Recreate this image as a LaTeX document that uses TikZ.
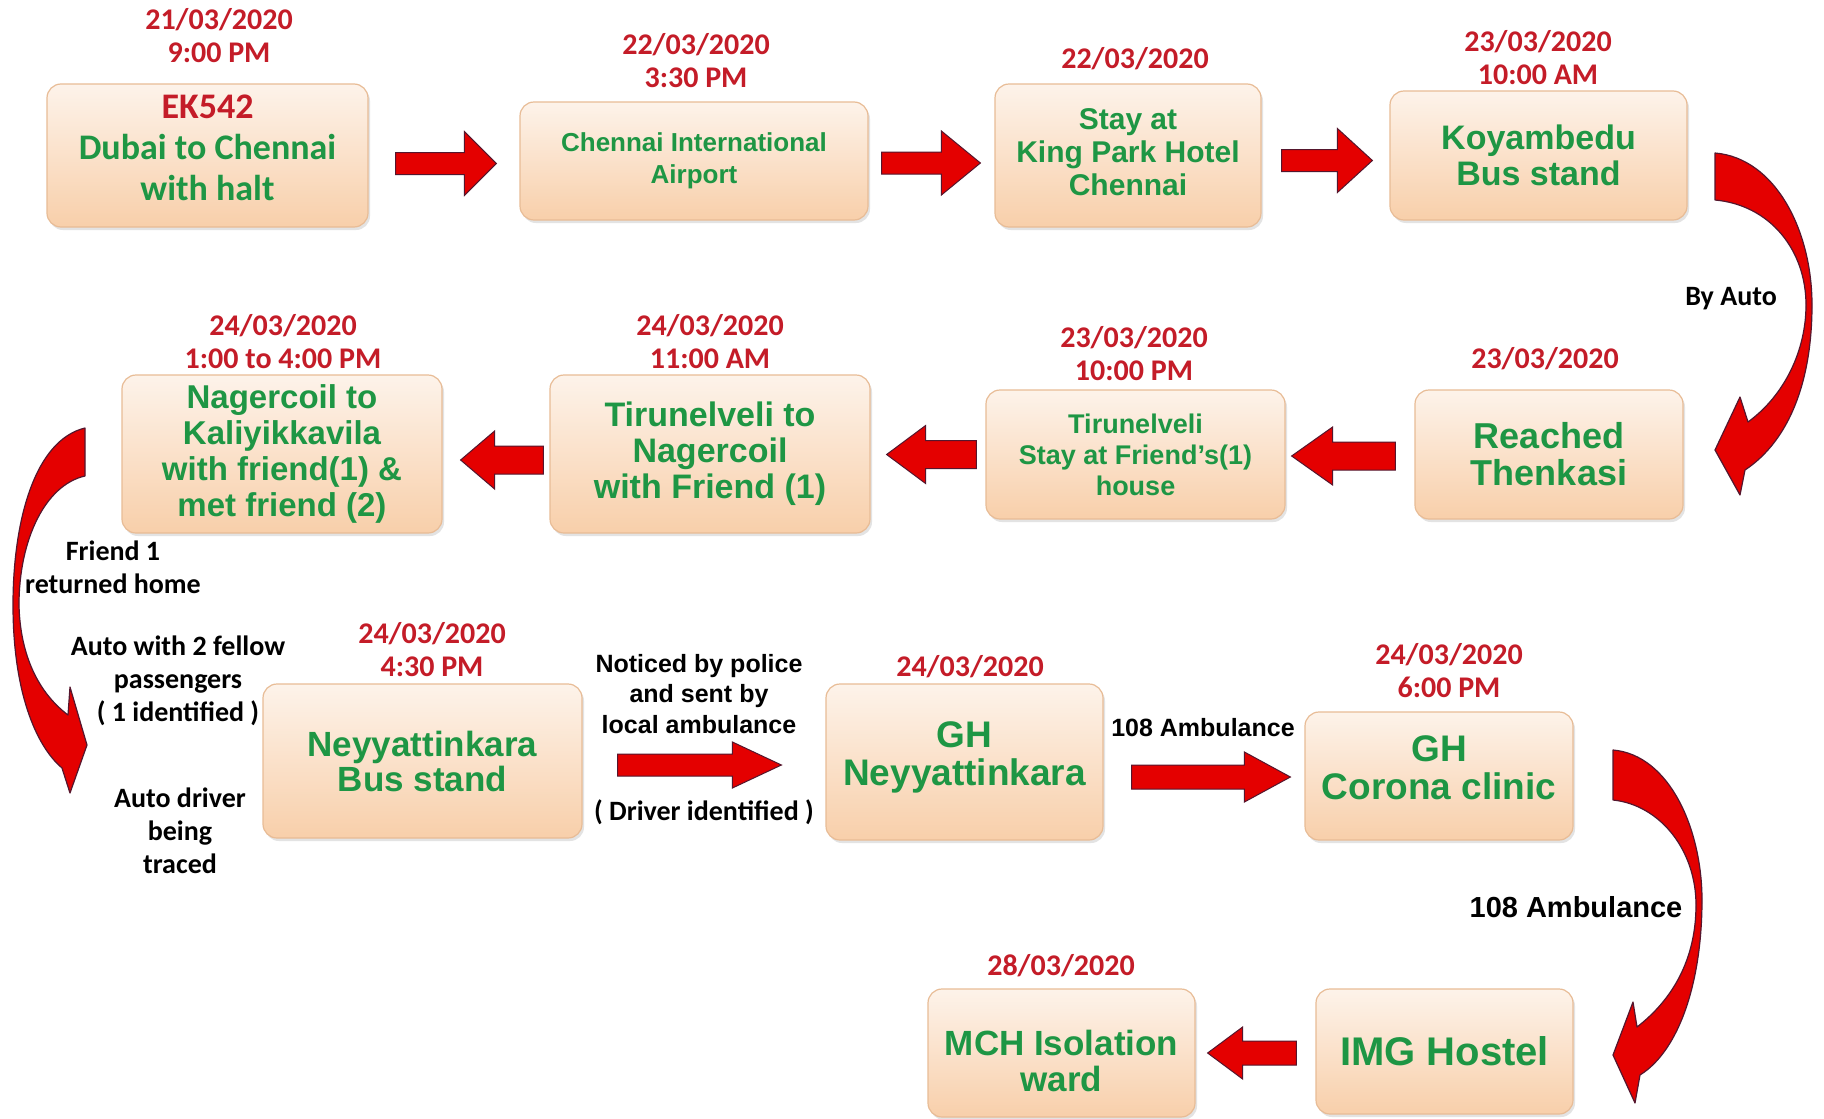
\documentclass[tikz,border=0pt]{standalone}
\usepackage{fontspec}
\setmainfont{Liberation Sans}
\newfontfamily\calfont{Carlito}
\usetikzlibrary{calc,shadows}

\definecolor{boxtop}{RGB}{253,243,234}
\definecolor{boxbot}{RGB}{248,207,170}
\definecolor{boxedge}{RGB}{232,188,150}
\definecolor{txtgreen}{RGB}{30,150,68}
\definecolor{daterd}{RGB}{196,28,40}
\definecolor{arrowred}{RGB}{228,0,0}
\definecolor{arrowedge}{RGB}{85,22,45}

\newcommand{\fsz}[2]{\fontsize{#1}{#2}\selectfont}
% extra depth / height to nudge text inside a box
\newcommand{\lift}[1]{\rule[-#1]{0pt}{0pt}}
\newcommand{\drop}[1]{\rule{0pt}{#1}}

\tikzset{
  shaftw/.store in=\flowshaft, headw/.store in=\flowheadw, headl/.store in=\flowheadl,
  shaftw=11pt, headw=32pt, headl=32pt,
  station/.style={rounded corners=14pt, draw=boxedge, line width=1.2pt,
    top color=boxtop, bottom color=boxbot, align=center, text=txtgreen, inner sep=0pt,
    drop shadow={shadow xshift=2pt, shadow yshift=-3pt, opacity=.22}},
  datelbl/.style={align=center, text=daterd, font=\calfont\bfseries\fsz{30}{33}},
  note/.style={align=center, font=\calfont\bfseries\fsz{28}{33}},
  anote/.style={align=center, font=\bfseries\fsz{25}{30.5}},
  flow/.style={draw=arrowedge, fill=arrowred, line width=1pt, line join=miter,
    to path={let \p1=(\tikztostart), \p2=(\tikztotarget),
      \n1={ifthenelse(\x2>\x1,1,-1)} in
      (\x1,\y1+\flowshaft) -- ({\x2-\n1*\flowheadl},\y1+\flowshaft)
      -- ({\x2-\n1*\flowheadl},\y1+\flowheadw) -- (\x2,\y1)
      -- ({\x2-\n1*\flowheadl},\y1-\flowheadw) -- ({\x2-\n1*\flowheadl},\y1-\flowshaft)
      -- (\x1,\y1-\flowshaft) -- cycle}},
  curvearrow/.style={fill=arrowred, draw=arrowedge, line width=1.2pt, line join=round},
}

\begin{document}
\begin{tikzpicture}[x=1pt, y=-1pt]
\fill[white] (0,0) rectangle (1824,1119);
\useasboundingbox (0,0) rectangle (1824,1119);

% stations
\node[station, minimum width=321pt, minimum height=143pt, font=\calfont\bfseries\fsz{36}{41}]
  (ek) at (207.5,155.5) {\textcolor{daterd}{EK542}\\Dubai to Chennai\\with halt\lift{16pt}};
\node[station, minimum width=348pt, minimum height=118pt, font=\bfseries\fsz{26}{32}]
  (air) at (694,161) {Chennai International\\Airport};
\node[station, minimum width=266pt, minimum height=143pt, font=\bfseries\fsz{30}{33}]
  (hotel) at (1128,155.5) {Stay at\\King Park Hotel\\Chennai\lift{7pt}};
\node[station, minimum width=297pt, minimum height=129pt, font=\bfseries\fsz{34}{36}]
  (koy) at (1538.5,155.5) {Koyambedu\\Bus stand};

\node[station, minimum width=320pt, minimum height=158pt, font=\bfseries\fsz{33}{36}]
  (kal) at (282,454) {Nagercoil to\\Kaliyikkavila\\with friend(1) \&\\met friend (2)};
\node[station, minimum width=320pt, minimum height=158pt, font=\bfseries\fsz{34}{36}]
  (nag) at (710,454) {Tirunelveli to\\Nagercoil\\with Friend (1)};
\node[station, minimum width=299pt, minimum height=129pt, font=\bfseries\fsz{27}{31}]
  (tir) at (1135.5,454.5) {Tirunelveli\\Stay at Friend’s(1)\\house};
\node[station, minimum width=268pt, minimum height=129pt, font=\bfseries\fsz{36}{37}]
  (then) at (1549,454.5) {Reached\\Thenkasi};

\node[station, minimum width=319pt, minimum height=154pt, font=\bfseries\fsz{35}{35}]
  (ney) at (422.5,761) {Neyyattinkara\\Bus stand};
\node[station, minimum width=277pt, minimum height=156pt, font=\bfseries\fsz{37}{38}]
  (ghn) at (964.5,762) {GH\\Neyyattinkara\lift{17pt}};
\node[station, minimum width=268pt, minimum height=128pt, font=\bfseries\fsz{37}{38}]
  (ghc) at (1439,776) {GH\\Corona clinic\lift{16pt}};
\node[station, minimum width=257pt, minimum height=125pt, font=\bfseries\fsz{40}{40}]
  (img) at (1444.5,1051.5) {IMG Hostel};
\node[station, minimum width=267pt, minimum height=128pt, font=\bfseries\fsz{35}{36}]
  (mch) at (1061.5,1053) {\drop{41pt}MCH Isolation\\ward};

% dates
\node[datelbl] (d-ek) at (219,36) {21/03/2020\\9:00 PM};
\node[datelbl] (d-air) at (696,61) {22/03/2020\\3:30 PM};
\node[datelbl] (d-hotel) at (1135,59) {22/03/2020};
\node[datelbl] (d-koy) at (1538,57.5) {23/03/2020\\10:00 AM};
\node[datelbl] (d-kal) at (283,341.5) {24/03/2020\\1:00 to 4:00 PM};
\node[datelbl] (d-nag) at (710,341.5) {24/03/2020\\11:00 AM};
\node[datelbl] (d-tir) at (1134,354) {23/03/2020\\10:00 PM};
\node[datelbl] (d-then) at (1545,359) {23/03/2020};
\node[datelbl] (d-ney) at (432,650) {24/03/2020\\4:30 PM};
\node[datelbl] (d-ghn) at (970,667) {24/03/2020};
\node[datelbl] (d-ghc) at (1449,670.5) {24/03/2020\\6:00 PM};
\node[datelbl] (d-mch) at (1061,966) {28/03/2020};

% notes
\node[note] (byauto) at (1731,299) {By Auto};
\node[note] (friend) at (113,567) {Friend 1\\returned home};
\node[note] (fellow) at (178,681) {Auto with 2 fellow\\passengers\\( 1 identified )};
\node[note] (driver) at (180,831) {Auto driver\\being\\traced};
\node[anote] (police) at (699,694) {Noticed by police\\and sent by\\local ambulance};
\node[note] (drvid) at (704,812) {( Driver identified )};
\node[anote] (amb1) at (1203,728) {108 Ambulance};
\node[anote, font=\bfseries\fsz{29}{33}] (amb2) at (1576,907) {108 Ambulance};

% straight arrows
\draw[flow] ([xshift=27pt,yshift=-8pt]ek.east) to ([xshift=-23pt]air.west);
\draw[flow, headl=39pt] ([xshift=13pt,yshift=-2pt]air.east) to ([xshift=-14pt]hotel.west);
\draw[flow, headl=35pt] ([xshift=20pt,yshift=-5pt]hotel.east) to ([xshift=-17pt]koy.west);
\draw[flow, shaftw=14pt, headw=29pt, headl=41pt] ([xshift=-19pt,yshift=-1.5pt]then.west) to ([xshift=6pt]tir.east);
\draw[flow, shaftw=14pt, headw=29pt, headl=39pt] ([xshift=-9pt]tir.west) to ([xshift=16pt]nag.east);
\draw[flow, shaftw=14pt, headw=29pt, headl=34pt] ([xshift=-6pt,yshift=-6pt]nag.west) to ([xshift=18pt]kal.east);
\draw[flow, shaftw=11pt, headw=23pt, headl=49pt] ([xshift=35pt,yshift=-4pt]ney.east) to ([xshift=-44pt]ghn.west);
\draw[flow, shaftw=12pt, headw=25pt, headl=46pt] ([xshift=28pt,yshift=-15pt]ghn.east) to ([xshift=-14pt]ghc.west);
\draw[flow, shaftw=12pt, headw=26pt, headl=35pt] ([xshift=-19pt,yshift=-1.5pt]img.west) to ([xshift=12pt]mch.east);

% curved arrows
\draw[curvearrow] (1715,153) .. controls (1775,158) and (1812,230) .. (1812,305)
  .. controls (1812,380) and (1790,440) .. (1745,470) -- (1740,495) -- (1715,450)
  -- (1740,397) -- (1748,422) .. controls (1785,395) and (1806,350) .. (1806,305)
  .. controls (1806,250) and (1770,205) .. (1715,200) -- cycle;
\draw[curvearrow] (85,428) .. controls (35,440) and (13,520) .. (13,605)
  .. controls (13,690) and (35,745) .. (62,768) -- (70,793) -- (87,745)
  -- (70,687) -- (68,715) .. controls (35,690) and (20,650) .. (19,605)
  .. controls (19,540) and (45,485) .. (85,476) -- cycle;
\draw[curvearrow] (1613,750) .. controls (1670,755) and (1702,830) .. (1702,900)
  .. controls (1702,980) and (1680,1050) .. (1640,1075) -- (1635,1103) -- (1613,1055)
  -- (1633,1002) -- (1637,1027) .. controls (1672,1000) and (1696,960) .. (1696,905)
  .. controls (1696,850) and (1660,805) .. (1613,800) -- cycle;
\end{tikzpicture}
\end{document}
